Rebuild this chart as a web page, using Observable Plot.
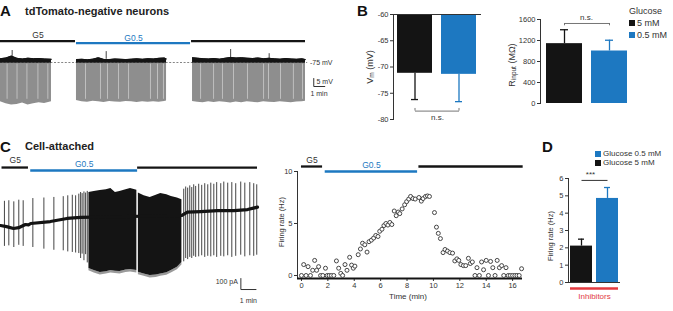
<!DOCTYPE html>
<html><head><meta charset="utf-8">
<script src="https://cdn.jsdelivr.net/npm/d3@7"></script>
<script src="https://cdn.jsdelivr.net/npm/@observablehq/plot@0.6"></script>
<style>
body{margin:0;background:#fff}
#fig{position:relative;width:673px;height:311px;overflow:hidden;background:#fff;font-family:"Liberation Sans",Arial,sans-serif;color:#333}
#fig svg{position:absolute;left:0;top:0}
.lab{position:absolute;white-space:nowrap;line-height:1}
.lab sub{font-size:72%;vertical-align:-0.3em;line-height:0}
.sw{position:absolute;width:6px;height:6px}
</style></head><body><div id="fig"></div><script>
const BLACK = "#141414", BLUE = "#1d78c1", RED = "#e23a3f", INK = "#333";

// ---------- A: whole-cell membrane potential, three recording segments ----------
const aEpochStart = [0, 6.9, 17.35];      // min
const aEpochEnd = [6.81, 17.26, 27.7];
const aEpochGlucose = [5, 0.5, 5];
const aEpochName = ["G5", "G0.5", ""];
const aTraceSeg = [1,1,1,1,1,1,1,1,1,1,
  2,2,2,2,2,2,2,2,2,2,2,2,2,2,2,2,2,2,
  3,3,3,3,3,3,3,3,3,3,3,3,3,3,3,3,3,3,3,3,3,3];
const aTraceT = [0,0.5,1,1.5,2,2.5,3,3.5,4,4.63,
  6.9,7.4,7.9,8.4,8.9,9.4,9.9,10.4,10.9,11.4,11.9,12.4,12.9,13.4,13.9,14.4,14.9,15.08,
  17.44,17.9,18.4,18.9,19.4,19.9,20.4,20.9,21.4,21.9,22.4,22.9,23.4,23.9,24.4,24.9,25.4,25.9,26.4,26.9,27.4,27.7];
const aTraceTop = [-72.6,-72.2,-71.0,-72.4,-72.8,-72.3,-72.6,-72.5,-72.8,-73.0,
  -73.2,-73.0,-73.3,-72.9,-72.0,-73.1,-73.2,-72.8,-73.0,-73.2,-72.9,-72.7,-73.0,-72.6,-72.8,-72.4,-72.2,-72.8,
  -72.0,-72.3,-72.6,-72.8,-72.5,-72.9,-72.4,-71.8,-72.2,-72.0,-72.3,-72.5,-72.2,-72.6,-72.4,-72.7,-72.9,-72.5,-72.8,-73.0,-72.7,-73.2];
const aTraceLow = [-99.5,-100.8,-101.6,-101.2,-100.3,-101.5,-100.8,-100.2,-100.6,-99.6,
  -98.8,-99.5,-99.8,-99.2,-99.6,-100,-99.4,-99.7,-99.9,-99.3,-99.6,-100,-99.5,-99.8,-99.6,-99.9,-99.4,-99.0,
  -99.3,-99.8,-100.2,-99.6,-100,-99.5,-99.9,-100.3,-99.7,-100.1,-99.6,-99.9,-100.2,-99.5,-99.8,-100,-99.6,-99.9,-100.2,-99.7,-99.5,-99.2];
const aBlipT = [1.06, 9.6, 20.9, 24.4];
const aBlipTop = [-67.5, -68.2, -66.9, -69.5];
const aStripeT = [0.6,1.5,2.4,3.4,4.3, 7.72,9.08,9.72,10.72,11.63,13.62,14.26,14.8,
  18.17,19.35,20.16,21.16,22.43,23.89,24.34,25.43,26.6,27.43];

// ---------- B: resting potential and input resistance ----------
const bCond = ["5 mM", "0.5 mM"];
const bVm = [-71.2, -71.4];
const bVmSem = [5.0, 5.2];
const bRin = [1140, 1000];
const bRinSem = [265, 205];

// ---------- C: cell-attached current trace ----------
const cEpochStart = [0.1, 2.0, 9.07];
const cEpochEnd = [1.85, 9.07, 17.0];
const cEpochGlucose = [5, 0.5, 5];
const cEpochName = ["G5", "G0.5", ""];
const cBaseT = [0,0.4,0.86,1.2,1.65,1.85,2.0,3.3,4.4,5.3,12.0,12.36,13.25,14.35,15.45,16.34,17.0];
const cBasePA = [0,-10,-27,-20,9,5,18,36,64,73,91,121,127,136,136,145,167];
const cSpikeT = [0.26,0.55,0.88,1.21,1.5,2.14,2.87,3.53,4.15,4.45,4.75,4.97,5.18,5.3,5.4,5.52,5.63,5.74,
  12.12,12.25,12.38,12.52,12.65,12.78,12.91,13.11,13.31,13.51,13.71,13.91,14.11,14.3,14.57,14.77,15.03,15.3,15.56,15.89,16.16,16.49,16.75,16.95];
const cSpikeHi = [220,225,215,230,225,245,250,255,262,270,275,270,285,300,290,305,295,310,
  330,350,340,360,345,370,355,375,365,380,370,385,375,390,380,395,385,390,380,395,385,390,380,370];
const cSpikeLo = [-190,-185,-200,-180,-190,-200,-215,-225,-230,-240,-245,-250,-255,-300,-260,-320,-265,-340,
  -330,-300,-310,-290,-300,-280,-290,-285,-275,-290,-280,-285,-275,-290,-280,-285,-275,-290,-280,-270,-285,-275,-280,-270];
const cDensePart = [1,1,1,1,1,1,1,1,1,1, 2,2,2,2,2,2,2,2,2];
const cDenseT = [5.85,6.2,6.6,7.0,7.3,7.6,7.9,8.3,8.6,9.02, 9.12,9.5,9.9,10.3,10.6,11.0,11.3,11.7,12.0];
const cDenseHi = [300,310,318,325,336,300,309,325,336,320, 295,270,255,275,290,280,264,250,235];
const cDenseLo = [-390,-410,-427,-420,-409,-415,-418,-405,-400,-410, -425,-440,-455,-450,-440,-430,-410,-380,-336];

// ---------- C: firing rate over time (10 s bins) ----------
const rEpochStart = [0, 1.8, 8.9];
const rEpochEnd = [1.6, 8.8, 16.8];
const rEpochGlucose = [5, 0.5, 5];
const rEpochName = ["G5", "G0.5", ""];
const rTime = [0,0.17,0.35,0.5,0.68,0.85,1.0,1.15,1.3,1.45,1.62,1.82,1.95,2.1,2.27,2.45,2.65,2.82,2.98,3.12,
  3.3,3.45,3.65,3.8,3.93,4.05,4.3,4.47,4.63,4.8,4.97,5.12,5.3,5.47,5.63,5.8,5.93,6.1,6.25,6.4,
  6.55,6.7,6.85,7.03,7.18,7.33,7.45,7.63,7.82,7.97,8.13,8.27,8.45,8.62,8.9,9.08,9.22,9.4,9.55,9.7,
  10.08,10.23,10.37,10.53,10.73,10.88,11.07,11.25,11.45,11.62,11.78,11.92,12.08,12.27,12.45,12.65,12.8,12.95,13.15,13.3,
  13.48,13.65,13.8,14.0,14.17,14.33,14.5,14.67,14.83,15.0,15.17,15.33,15.5,15.67,15.83,16.0,16.17,16.33,16.5,16.68];
const rRate = [0,1.05,0,0.85,0,0.5,1.45,0.5,0.85,0,0,0.7,0,0,0,0,1.4,0.7,0.2,0,
  1.05,0.5,1.75,1.0,0.7,0.9,2.0,2.55,3.1,2.95,2.25,3.25,3.4,3.6,3.85,3.75,4.25,4.45,4.8,5.0,
  4.85,5.1,4.9,6.2,5.75,6.1,5.95,6.4,6.8,7.1,7.35,7.6,7.4,7.35,7.5,7.15,7.4,7.6,7.65,7.6,
  6.05,4.65,4.05,3.55,2.2,2.5,2.35,2.2,2.15,1.4,1.6,1.45,1.05,0.95,0.95,1.65,1.15,1.3,0,0.75,
  0,1.3,0.55,1.45,0,1.35,0.75,0,1.45,0.75,0.95,0,0.75,0,0,0,0,0,0,0.65];
const rXTicks = [0,2,4,6,8,10,12,14,16];
const rYTicks = [0,5,10];

// ---------- D: firing rate with synaptic inhibitors ----------
const dCond = ["Glucose 5 mM", "Glucose 0.5 mM"];
const dRate = [2.1, 4.85];
const dSem = [0.4, 0.63];

// ---------- helpers ----------
const W = 673, H = 311;
const fig = document.getElementById("fig");
const glucoseColor = g => g === 0.5 ? BLUE : BLACK;
function frame(l, r, t, b) {
  return {width: W, height: H, marginLeft: l, marginRight: W - r, marginTop: t, marginBottom: H - b,
    style: {background: "transparent", overflow: "visible", fontFamily: "Liberation Sans, Arial, sans-serif", fontSize: "7.5px", color: INK}};
}
function add(svg) { fig.appendChild(svg); }
function label(html, x, y, {size = 8, weight = "normal", color = INK, anchor = "start", rotate = false} = {}) {
  const d = document.createElement("div");
  d.className = "lab";
  d.innerHTML = html;
  d.style.left = x + "px"; d.style.top = y + "px";
  d.style.fontSize = size + "px"; d.style.fontWeight = weight; d.style.color = color;
  const tx = anchor === "middle" ? "-50%" : anchor === "end" ? "-100%" : "0";
  d.style.transform = rotate ? "translate(-50%,-50%) rotate(-90deg)" : `translate(${tx},-50%)`;
  fig.appendChild(d);
}
function swatch(x, y, color) {
  const d = document.createElement("div");
  d.className = "sw"; d.style.left = x + "px"; d.style.top = y + "px"; d.style.background = color;
  fig.appendChild(d);
}
const epochs = (s, e, g, n) => s.map((v, i) => ({start: v, end: e[i], glucose: g[i], name: n[i]}));

// ---------- A ----------
const aTrace = aTraceT.map((t, i) => ({t, top: aTraceTop[i], low: aTraceLow[i], seg: aTraceSeg[i]}));
const aEp = epochs(aEpochStart, aEpochEnd, aEpochGlucose, aEpochName);
const aBarX = 28.45;  // scale bar anchor (min)
add(Plot.plot({
  ...frame(0, 305, 30, 110),
  x: {domain: [0, 27.7], axis: null},
  y: {domain: [-105, -55], axis: null},
  marks: [
    Plot.ruleY([-75], {x1: 0, x2: 27.9, stroke: "#666", strokeDasharray: "2,1.6", strokeWidth: 0.8}),
    Plot.areaY(aTrace, {x: "t", y1: -75.4, y2: "low", z: "seg", fill: "#8e8e8e"}),
    Plot.ruleX(aStripeT, {x: d => d, y1: -76, y2: -98, stroke: "#fff", strokeOpacity: 0.55, strokeWidth: 0.8}),
    Plot.areaY(aTrace, {x: "t", y1: -75.4, y2: "top", z: "seg", fill: BLACK}),
    Plot.lineY(aTrace, {x: "t", y: "top", z: "seg", stroke: BLACK, strokeWidth: 1}),
    Plot.ruleX(aBlipT, {x: d => d, y1: -73, y2: (d, i) => aBlipTop[i], stroke: BLACK, strokeWidth: 0.8}),
    Plot.ruleY(aEp, {x1: "start", x2: "end", y: d => d.glucose === 0.5 ? -62.9 : -61.7, stroke: d => glucoseColor(d.glucose), strokeWidth: 2.3}),
    Plot.text(aEp, {x: d => (d.start + d.end) / 2, y: d => d.glucose === 0.5 ? -59.8 : -58.1, text: "name", fill: d => d.glucose === 0.5 ? BLUE : INK, fontSize: 8.5}),
    Plot.text(["-75 mV"], {x: 28.1, y: -75, text: d => d, textAnchor: "start", fontSize: 7, fill: INK}),
    Plot.line([[aBarX, -85], [aBarX, -90], [aBarX + 1, -90]], {x: d => d[0], y: d => d[1], stroke: INK, strokeWidth: 1}),
    Plot.text(["5 mV"], {x: aBarX + 0.25, y: -87, text: d => d, textAnchor: "start", fontSize: 7, fill: INK}),
    Plot.text(["1 min"], {x: aBarX - 0.3, y: -94.6, text: d => d, textAnchor: "start", fontSize: 7, fill: INK})
  ]
}));

// ---------- B left: Vm ----------
const bData = bCond.map((c, i) => ({cond: c, vm: bVm[i], vmSem: bVmSem[i], rin: bRin[i], rinSem: bRinSem[i]}));
add(Plot.plot({
  ...frame(393, 481, 14, 119),
  x: {type: "band", domain: bCond, paddingInner: 0.2, paddingOuter: 0.08, axis: null},
  y: {domain: [-80, -60], ticks: [-80, -75, -70, -65, -60], tickFormat: d => String(d), tickSize: 3, tickPadding: 2, line: true, label: null},
  color: {domain: bCond, range: [BLACK, BLUE]},
  marks: [
    Plot.barY(bData, {x: "cond", y1: -60, y2: "vm", fill: "cond"}),
    Plot.ruleX(bData, {x: "cond", y1: "vm", y2: d => d.vm - d.vmSem, stroke: "cond", strokeWidth: 1.3}),
    Plot.tickY(bData, {x: "cond", y: d => d.vm - d.vmSem, stroke: "cond", strokeWidth: 1.3, insetLeft: 14, insetRight: 14}),
    Plot.ruleY([-60], {stroke: INK, strokeWidth: 1}),
    Plot.link([0], {x1: () => bCond[0], x2: () => bCond[1], y1: -78.4, y2: -78.4, stroke: "#666", strokeWidth: 0.9}),
    Plot.ruleX(bCond, {x: d => d, y1: -78.4, y2: -77.9, stroke: "#666", strokeWidth: 0.9}),
    Plot.text(["n.s."], {y: -79.7, text: d => d, fontSize: 8, fill: INK})
  ]
}));

// ---------- B right: input resistance ----------
add(Plot.plot({
  ...frame(540, 632, 19, 103),
  x: {type: "band", domain: bCond, paddingInner: 0.2, paddingOuter: 0.12, axis: null},
  y: {domain: [0, 1600], ticks: [0, 400, 800, 1200, 1600], tickSize: 3, tickPadding: 2, tickFormat: d => String(d), line: true, label: null},
  color: {domain: bCond, range: [BLACK, BLUE]},
  marks: [
    Plot.barY(bData, {x: "cond", y: "rin", fill: "cond"}),
    Plot.ruleX(bData, {x: "cond", y1: "rin", y2: d => d.rin + d.rinSem, stroke: "cond", strokeWidth: 1.3}),
    Plot.tickY(bData, {x: "cond", y: d => d.rin + d.rinSem, stroke: "cond", strokeWidth: 1.3, insetLeft: 14, insetRight: 14}),
    Plot.link([0], {x1: () => bCond[0], x2: () => bCond[1], y1: 1524, y2: 1524, stroke: "#666", strokeWidth: 0.9}),
    Plot.ruleX(bCond, {x: d => d, y1: 1524, y2: 1480, stroke: "#666", strokeWidth: 0.9}),
    Plot.text(["n.s."], {y: 1640, text: d => d, fontSize: 8, fill: INK})
  ]
}));

// ---------- C: cell-attached trace ----------
const cEp = epochs(cEpochStart, cEpochEnd, cEpochGlucose, cEpochName);
const cBase = cBaseT.map((t, i) => ({t, pA: cBasePA[i]}));
const cSpikes = cSpikeT.map((t, i) => ({t, hi: cSpikeHi[i], lo: cSpikeLo[i]}));
const cDense = cDenseT.map((t, i) => ({t, hi: cDenseHi[i], lo: cDenseLo[i], part: cDensePart[i]}));
const cBarX = 15.9;
add(Plot.plot({
  ...frame(0, 257, 148, 302),
  x: {domain: [0, 17], axis: null},
  y: {domain: [-700, 700], axis: null},
  marks: [
    Plot.areaY(cDense, {x: "t", y1: d => d.lo - 22, y2: "lo", z: "part", fill: "#9a9a9a"}),
    Plot.areaY(cDense, {x: "t", y1: "lo", y2: "hi", z: "part", fill: BLACK}),
    Plot.ruleX(cSpikes, {x: "t", y1: "lo", y2: "hi", stroke: BLACK, strokeWidth: 0.8}),
    Plot.line(cBase, {x: "t", y: "pA", stroke: BLACK, strokeWidth: 3.2}),
    Plot.ruleY(cEp, {x1: "start", x2: "end", y: d => d.glucose === 0.5 ? 500 : 527, stroke: d => glucoseColor(d.glucose), strokeWidth: 2.3}),
    Plot.text(cEp, {x: d => (d.start + d.end) / 2, y: d => d.glucose === 0.5 ? 555 : 590, text: "name", fill: d => d.glucose === 0.5 ? BLUE : INK, fontSize: 8.5}),
    Plot.line([[cBarX, -482], [cBarX, -582], [cBarX + 1, -582]], {x: d => d[0], y: d => d[1], stroke: INK, strokeWidth: 1}),
    Plot.text(["100 pA"], {x: cBarX - 0.2, y: -515, text: d => d, textAnchor: "end", fontSize: 7, fill: INK}),
    Plot.text(["1 min"], {x: cBarX + 0.5, y: -680, text: d => d, fontSize: 7, fill: INK})
  ]
}));

// ---------- C: firing rate ----------
const rEp = epochs(rEpochStart, rEpochEnd, rEpochGlucose, rEpochName);
const rData = rTime.map((t, i) => ({t, hz: rRate[i]}));
const rYMin = -0.29;
add(Plot.plot({
  ...frame(297, 522, 171, 278),
  x: {domain: [-0.3, 16.75], ticks: rXTicks, tickSize: 3, tickPadding: 1, tickFormat: d => String(d), label: null},
  y: {domain: [rYMin, 10], ticks: rYTicks, tickSize: 3, tickPadding: 2, tickFormat: d => String(d), line: true, label: null},
  marks: [
    Plot.ruleY([rYMin], {stroke: BLACK, strokeWidth: 2.2}),
    Plot.dot(rData, {x: "t", y: "hz", r: 2, stroke: "#333", strokeWidth: 0.9, fill: "white"}),
    Plot.ruleY(rEp, {x1: "start", x2: "end", y: d => d.glucose === 0.5 ? 10.0 : 10.48, stroke: d => glucoseColor(d.glucose), strokeWidth: 2.3}),
    Plot.text(rEp, {x: d => (d.start + d.end) / 2, y: d => d.glucose === 0.5 ? 10.58 : 11.06, text: "name", fill: d => d.glucose === 0.5 ? BLUE : INK, fontSize: 8.5})
  ]
}));

// ---------- D ----------
const dData = dCond.map((c, i) => ({cond: c, rate: dRate[i], sem: dSem[i]}));
add(Plot.plot({
  ...frame(568, 620, 178, 282),
  x: {type: "band", domain: dCond, paddingInner: 0.16, paddingOuter: 0.06, axis: null},
  y: {domain: [0, 6], ticks: [0, 1, 2, 3, 4, 5, 6], tickSize: 3, tickPadding: 2, tickFormat: d => String(d), line: true, label: null},
  color: {domain: dCond, range: [BLACK, BLUE]},
  marks: [
    Plot.barY(dData, {x: "cond", y: "rate", fill: "cond"}),
    Plot.ruleX(dData, {x: "cond", y1: "rate", y2: d => d.rate + d.sem, stroke: "cond", strokeWidth: 1.3}),
    Plot.tickY(dData, {x: "cond", y: d => d.rate + d.sem, stroke: "cond", strokeWidth: 1.3, insetLeft: 8, insetRight: 8}),
    Plot.ruleY([0], {stroke: INK, strokeWidth: 1}),
    Plot.link([0], {x1: () => dCond[0], x2: () => dCond[1], y1: 5.89, y2: 5.89, stroke: INK, strokeWidth: 1}),
    Plot.text(["***"], {y: 6.25, dx: -4, text: d => d, fontSize: 8, fill: INK}),
    Plot.ruleY([-0.35], {stroke: RED, strokeWidth: 2.6, insetLeft: 2, insetRight: 2}),
    Plot.text(["Inhibitors"], {y: -0.82, text: d => d, fontSize: 8, fill: RED})
  ]
}));

// ---------- titles, axis labels, legends ----------
label("A", 0, 10, {size: 15, weight: "bold", color: "#111"});
label("tdTomato-negative neurons", 25, 10.5, {size: 11, weight: "bold", color: "#222"});
label("B", 357, 10, {size: 15, weight: "bold", color: "#111"});
label("C", 0, 146, {size: 15, weight: "bold", color: "#111"});
label("Cell-attached", 25, 146, {size: 11, weight: "bold", color: "#222"});
label("D", 542, 146, {size: 15, weight: "bold", color: "#111"});
label("V<sub>m</sub> (mV)", 370, 67, {size: 9, rotate: true});
label("R<sub>input</sub> (MΩ)", 512, 65, {size: 9, rotate: true});
label("Firing rate (Hz)", 282, 222, {size: 7.5, rotate: true});
label("Firing rate (Hz)", 551, 236, {size: 7.5, rotate: true});
label("Time (min)", 408, 297, {size: 8, anchor: "middle"});
label("Glucose", 629, 11, {size: 9});
swatch(629, 19.5, BLACK); label("5 mM", 637, 22.5, {size: 9});
swatch(629, 31.5, BLUE); label("0.5 mM", 637, 34.5, {size: 9});
swatch(595, 150.5, BLUE); label("Glucose 0.5 mM", 603, 153.5, {size: 8});
swatch(595, 159.5, BLACK); label("Glucose 5 mM", 603, 162.5, {size: 8});
</script></body></html>
